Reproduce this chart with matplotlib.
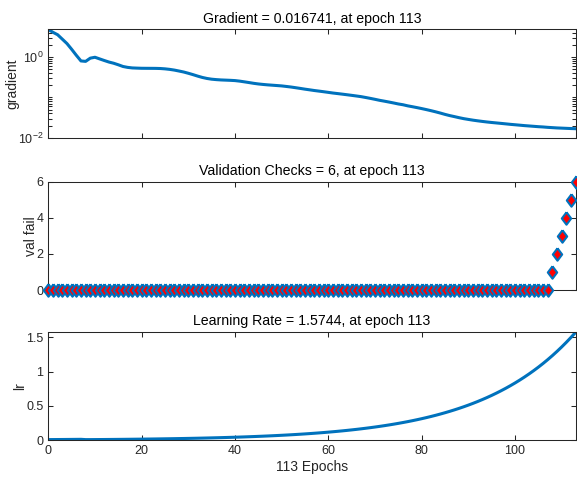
import numpy as np
import matplotlib
matplotlib.use('Agg')
import matplotlib.pyplot as plt
from matplotlib.ticker import LogLocator, NullFormatter

plt.rcParams['font.family'] = ['Liberation Sans', 'DejaVu Sans']
plt.rcParams['mathtext.default'] = 'regular'

# epochs 0..113
epochs = np.arange(0, 114)

# gradient
gradient = [
    4.90, 4.17, 3.63, 2.82, 2.19, 1.58, 1.12, 0.81, 0.79, 0.95,
    1.00, 0.91, 0.83, 0.76, 0.71, 0.65, 0.59, 0.56, 0.543, 0.537,
    0.532, 0.531, 0.530, 0.529, 0.525, 0.515, 0.50, 0.48, 0.455, 0.43,
    0.40, 0.37, 0.34, 0.315, 0.297, 0.285, 0.278, 0.273, 0.27, 0.267,
    0.263, 0.255, 0.245, 0.235, 0.225, 0.217, 0.211, 0.206, 0.202, 0.198,
    0.194, 0.188, 0.182, 0.175, 0.168, 0.161, 0.155, 0.149, 0.144, 0.139,
    0.134, 0.129, 0.125, 0.121, 0.117, 0.113, 0.109, 0.105, 0.100, 0.095,
    0.090, 0.085, 0.081, 0.077, 0.073, 0.069, 0.066, 0.062, 0.059, 0.056,
    0.053, 0.050, 0.047, 0.044, 0.041, 0.038, 0.0355, 0.0335, 0.0315, 0.0298,
    0.0285, 0.0273, 0.0263, 0.0254, 0.0246, 0.0239, 0.0233, 0.0227, 0.0221, 0.0215,
    0.0210, 0.0205, 0.0200, 0.0196, 0.0192, 0.0188, 0.0185, 0.0181, 0.0178, 0.0175,
    0.0173, 0.0171, 0.0169, 0.016741,
]

# validation failures
val_fail = [0] * 108 + [1, 2, 3, 4, 5, 6]

# learning rate
lr = [
    0.0100, 0.0105, 0.011025, 0.011576, 0.012155, 0.012763, 0.013401, 0.014071, 0.009850, 0.009850,
    0.010343, 0.010860, 0.011403, 0.011973, 0.012571, 0.013200, 0.013860, 0.014553, 0.015281, 0.016045,
    0.016847, 0.017689, 0.018574, 0.019502, 0.020477, 0.021501, 0.022576, 0.023705, 0.024890, 0.026135,
    0.027442, 0.028814, 0.030255, 0.031767, 0.033356, 0.035023, 0.036775, 0.038613, 0.040544, 0.042571,
    0.044700, 0.046935, 0.049281, 0.051745, 0.054333, 0.057049, 0.059902, 0.062897, 0.066042, 0.069344,
    0.072811, 0.076452, 0.080274, 0.084288, 0.088502, 0.092927, 0.097574, 0.10245, 0.10758, 0.11295,
    0.11860, 0.12453, 0.13076, 0.13730, 0.14416, 0.15137, 0.15894, 0.16688, 0.17523, 0.18399,
    0.19319, 0.20285, 0.21299, 0.22364, 0.23482, 0.24656, 0.25889, 0.27184, 0.28543, 0.29970,
    0.31469, 0.33042, 0.34694, 0.36429, 0.38250, 0.40163, 0.42171, 0.44279, 0.46493, 0.48818,
    0.51259, 0.53822, 0.56513, 0.59339, 0.62306, 0.65421, 0.68692, 0.72126, 0.75733, 0.79519,
    0.83495, 0.87670, 0.92054, 0.96657, 1.0149, 1.0656, 1.1189, 1.1749, 1.2336, 1.2953,
    1.3601, 1.4281, 1.4995, 1.5744,
]

titles = ['Gradient = 0.016741, at epoch 113',
          'Validation Checks = 6, at epoch 113',
          'Learning Rate = 1.5744, at epoch 113']
ylabels = ['gradient', 'val fail', 'lr']

blue = '#0072BD'
dark = '#262626'

fig = plt.figure(figsize=(5.77, 4.78), dpi=100)
rects = [[0.0837, 0.7119, 0.9140, 0.2264],
         [0.0837, 0.3933, 0.9140, 0.2266],
         [0.0837, 0.0789, 0.9140, 0.2260]]
axes = [fig.add_axes(r) for r in rects]


def style(ax):
    for sp in ax.spines.values():
        sp.set_linewidth(0.75)
        sp.set_color(dark)
    ax.tick_params(which='both', direction='in', top=True, right=True,
                   colors=dark, labelsize=9, width=0.75)
    ax.tick_params(which='major', length=3.6)
    ax.tick_params(which='minor', length=2.7)
    ax.set_xlim(0, 113)
    ax.set_xticks(np.arange(0, 101, 20))


# gradient
ax = axes[0]
ax.plot(epochs, gradient, color=blue, lw=2.2)
ax.set_yscale('log')
ax.set_ylim(0.01, gradient[0])
ax.set_yticks([0.01, 1])
ax.set_yticklabels(['$10^{-2}$', '$10^{0}$'])
ax.yaxis.set_minor_locator(LogLocator(base=10, subs=np.arange(1, 10), numticks=20))
ax.yaxis.set_minor_formatter(NullFormatter())

# validation checks
ax = axes[1]
diamond = [(0, 1), (0.75, 0), (0, -1), (-0.75, 0), (0, 1)]
ax.plot(epochs, val_fail, ls='none', marker=diamond, ms=9,
        mfc='red', mec=blue, mew=1.5, clip_on=False, zorder=5)
ax.set_ylim(0, 6)
ax.set_yticks([0, 2, 4, 6])

# learning rate
ax = axes[2]
ax.plot(epochs, lr, color=blue, lw=2.2)
ax.set_ylim(0, lr[-1])
ax.set_yticks([0, 0.5, 1, 1.5])
ax.set_yticklabels(['0', '0.5', '1', '1.5'])

for i, ax in enumerate(axes):
    style(ax)
    ax.set_title(titles[i], fontsize=10.2, color='black', pad=5)
    ax.set_ylabel(ylabels[i], fontsize=10, color=dark, labelpad=-1)
    if i < 2:
        ax.set_xticklabels([])

axes[2].set_xlabel('113 Epochs', fontsize=10, color=dark, labelpad=2)

fig.savefig('out.png', dpi=100)
